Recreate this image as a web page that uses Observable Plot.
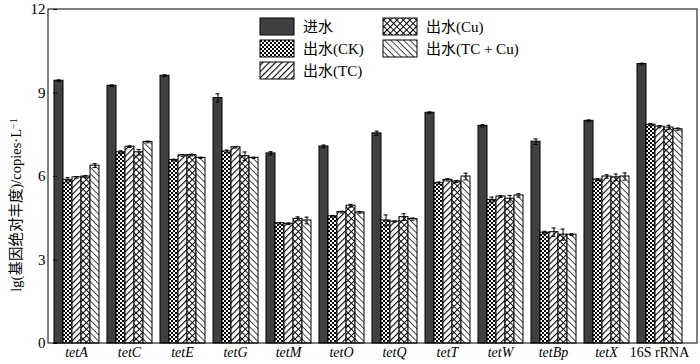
<!DOCTYPE html>
<html><head><meta charset="utf-8">
<script src="https://cdn.jsdelivr.net/npm/d3@7"></script>
<script src="https://cdn.jsdelivr.net/npm/@observablehq/plot@0.6"></script>
<style>body{margin:0;background:#fff}</style>
</head><body><div id="chart"></div>
<script>
const genes = ["tetA","tetC","tetE","tetG","tetM","tetO","tetQ","tetT","tetW","tetBp","tetX","16S rRNA"];
const series = ["进水","出水(CK)","出水(TC)","出水(Cu)","出水(TC + Cu)"];
const influent = [9.44,9.26,9.62,8.82,6.83,7.08,7.55,8.29,7.82,7.25,8.00,10.04];
const effCK    = [5.88,6.87,6.59,6.90,4.32,4.57,4.42,5.76,5.16,3.98,5.89,7.86];
const effTC    = [5.97,7.07,6.76,7.05,4.30,4.72,4.38,5.88,5.28,4.00,6.00,7.79];
const effCu    = [6.00,6.87,6.77,6.73,4.48,4.95,4.54,5.82,5.20,3.91,5.97,7.76];
const effTCCu  = [6.39,7.24,6.67,6.67,4.42,4.71,4.47,6.00,5.32,3.91,6.00,7.70];
const errInf   = [0.03,0.03,0.03,0.15,0.06,0.05,0.08,0.03,0.04,0.10,0.03,0.03];
const errCK    = [0.08,0.05,0.03,0.05,0.03,0.03,0.20,0.04,0.10,0.05,0.03,0.04];
const errTC    = [0.03,0.03,0.03,0.03,0.03,0.03,0.02,0.04,0.03,0.15,0.06,0.04];
const errCu    = [0.03,0.10,0.03,0.15,0.07,0.05,0.12,0.04,0.12,0.20,0.12,0.08];
const errTCCu  = [0.07,0.03,0.02,0.02,0.12,0.03,0.04,0.12,0.06,0.03,0.13,0.04];
const yTicks = [0,3,6,9,12];

const valueSets = [influent, effCK, effTC, effCu, effTCCu];
const errSets = [errInf, errCK, errTC, errCu, errTCCu];
const fills = ["#404040","url(#pCK)","url(#pTC)","url(#pCu)","url(#pTCCu)"];

const table = [];
genes.forEach((g, i) => series.forEach((s, j) => {
  table.push({gene: g, series: s, value: valueSets[j][i], err: errSets[j][i]});
}));

const font = "'Liberation Serif','Times New Roman','Noto Sans CJK SC',serif";

const plot = Plot.plot({
  width: 700, height: 364,
  marginLeft: 48, marginRight: 3, marginTop: 9, marginBottom: 21,
  style: {fontFamily: font, fontSize: "14px", background: "white", color: "black"},
  fx: {domain: genes, paddingInner: 0.123, paddingOuter: 0.115, align: 0.25, label: null},
  x: {domain: series, padding: 0, axis: null},
  y: {domain: [0, 12], label: null},
  color: {domain: series, range: fills},
  marks: [
    Plot.barY(table, {fx: "gene", x: "series", y: "value", fill: "series", stroke: "black", strokeWidth: 1}),
    Plot.ruleX(table, {fx: "gene", x: "series", y1: d => d.value - d.err, y2: d => d.value + d.err, stroke: "black", strokeWidth: 1}),
    Plot.tickY(table, {fx: "gene", x: "series", y: d => d.value - d.err, insetLeft: 2.5, insetRight: 2.5, stroke: "black"}),
    Plot.tickY(table, {fx: "gene", x: "series", y: d => d.value + d.err, insetLeft: 2.5, insetRight: 2.5, stroke: "black"}),
    Plot.axisY({ticks: yTicks, tickSize: 0, tickPadding: 8, fontSize: 15, label: null}),
    Plot.axisY({ticks: yTicks, tickSize: -4, tickFormat: () => "", label: null}),
    Plot.axisFx({anchor: "bottom", tickSize: 0, tickPadding: 4, fontSize: 14, label: null})
  ]
});

const svg = d3.select(plot);
const defs = svg.insert("defs", ":first-child");
// CK: dense checker
const pCK = defs.append("pattern").attr("id", "pCK").attr("patternUnits", "userSpaceOnUse")
  .attr("width", 4).attr("height", 4);
pCK.append("rect").attr("width", 4).attr("height", 4).attr("fill", "white");
pCK.append("rect").attr("width", 2).attr("height", 2).attr("fill", "black");
pCK.append("rect").attr("x", 2).attr("y", 2).attr("width", 2).attr("height", 2).attr("fill", "black");
// TC: forward diagonal
const pTC = defs.append("pattern").attr("id", "pTC").attr("patternUnits", "userSpaceOnUse")
  .attr("width", 4.5).attr("height", 4.5).attr("patternTransform", "rotate(45)");
pTC.append("rect").attr("width", 4.5).attr("height", 4.5).attr("fill", "white");
pTC.append("line").attr("x1", 0).attr("y1", 0).attr("x2", 0).attr("y2", 4.5).attr("stroke", "black").attr("stroke-width", 2.2);
// Cu: diagonal crosshatch
const pCu = defs.append("pattern").attr("id", "pCu").attr("patternUnits", "userSpaceOnUse")
  .attr("width", 4.6).attr("height", 4.6).attr("patternTransform", "rotate(45)");
pCu.append("rect").attr("width", 4.6).attr("height", 4.6).attr("fill", "white");
pCu.append("path").attr("d", "M0 0V4.6M0 0H4.6").attr("stroke", "black").attr("stroke-width", 2);
// TC+Cu: back diagonal
const pTT = defs.append("pattern").attr("id", "pTCCu").attr("patternUnits", "userSpaceOnUse")
  .attr("width", 4.5).attr("height", 4.5).attr("patternTransform", "rotate(-45)");
pTT.append("rect").attr("width", 4.5).attr("height", 4.5).attr("fill", "white");
pTT.append("line").attr("x1", 0).attr("y1", 0).attr("x2", 0).attr("y2", 4.5).attr("stroke", "black").attr("stroke-width", 1.4);

// italic gene names
svg.selectAll("[aria-label='fx-axis tick label'] text").each(function() {
  const t = d3.select(this).text();
  d3.select(this).style("font-style", t === "16S rRNA" ? "normal" : "italic");
});

// frame
const ys = plot.scale("y").range;
const yTop = Math.min(...ys), yBot = Math.max(...ys);
const xL = 48, xR = 700 - 3;
svg.append("rect").attr("x", xL).attr("y", yTop).attr("width", xR - xL).attr("height", yBot - yTop)
  .attr("fill", "none").attr("stroke", "black").attr("stroke-width", 1);

// legend
const lg = svg.append("g").attr("font-family", font).attr("font-size", 15).attr("text-anchor", "start");
const legendPos = [[260, 18], [260, 40], [260, 62], [383, 18], [383, 40]];
series.forEach((s, j) => {
  const [lx, ly] = legendPos[j];
  lg.append("rect").attr("x", lx).attr("y", ly).attr("width", 34).attr("height", 17)
    .attr("fill", fills[j]).attr("stroke", "black").attr("stroke-width", 1);
  lg.append("text").attr("x", lx + 43).attr("y", ly + 9).attr("dy", "0.35em").text(s);
});

// y label
const yl = svg.append("text").attr("transform", "translate(21,205) rotate(-90)")
  .attr("text-anchor", "middle").attr("font-family", font).attr("font-size", 14.5);
yl.append("tspan").text("lg(基因绝对丰度)/copies·L");
yl.append("tspan").attr("dy", "-0.45em").attr("font-size", 10).text("−1");

document.getElementById("chart").appendChild(plot);
</script>
</body></html>
